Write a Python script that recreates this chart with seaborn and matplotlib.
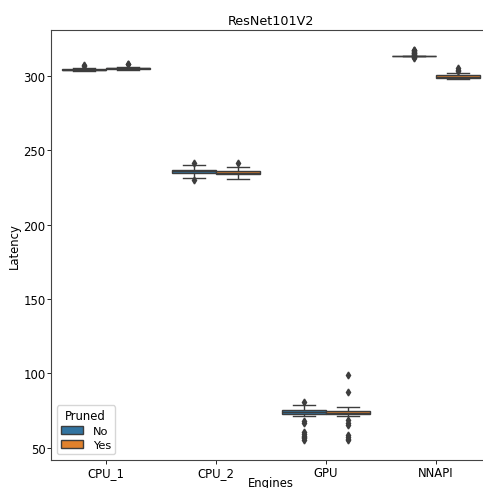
import numpy as np
import pandas as pd
import matplotlib
matplotlib.use("Agg")
import matplotlib.pyplot as plt
import seaborn as sns

engines = ["CPU_1", "CPU_2", "GPU", "NNAPI"]
pruned_levels = ["No", "Yes"]

cpu1_no = [303.0, 303.2, 303.4, 303.5, 303.6, 303.7, 303.8, 303.9, 304.0, 304.0,
           304.1, 304.2, 304.3, 304.4, 304.5, 304.6, 304.8, 306.5, 307.0]
cpu1_yes = [303.8, 304.0, 304.2, 304.4, 304.5, 304.6, 304.7, 304.8, 304.9, 305.0,
            305.0, 305.1, 305.2, 305.3, 305.4, 305.6, 305.8, 307.5, 308.0]
cpu2_no = [230.0, 231.5, 232.5, 233.5, 234.3, 234.6, 235.0, 235.3, 235.6, 235.8,
           236.0, 236.2, 236.4, 236.6, 236.8, 237.0, 237.5, 238.5, 239.7, 241.0]
cpu2_yes = [230.5, 231.5, 232.5, 233.3, 233.5, 233.8, 234.0, 234.3, 234.6, 234.8,
            235.0, 235.3, 235.6, 235.9, 236.1, 236.5, 237.5, 238.6, 241.0]
gpu_no = [55.5, 56.5, 57.0, 58.0, 59.5, 61.0, 66.5, 68.0,
          71.5, 72.4, 73.0, 73.1, 73.2, 73.3, 73.4, 73.5, 73.6, 73.7, 73.8, 73.9,
          74.0, 74.1, 74.2, 74.3, 74.4, 74.5, 74.6, 74.7, 74.8, 75.0, 75.5, 75.7,
          75.9, 76.1, 76.3, 76.6, 77.0, 77.5, 78.0, 78.5, 80.5]
gpu_yes = [55.0, 56.0, 57.0, 58.5, 65.5, 67.0, 68.5,
           71.1, 71.8, 72.2, 72.5, 72.6, 72.7, 72.8, 72.9, 73.0, 73.1, 73.2, 73.3,
           73.4, 73.5, 73.6, 73.7, 73.8, 73.9, 74.0, 74.1, 74.2, 74.4, 74.6, 74.8,
           75.0, 75.3, 75.6, 76.0, 76.4, 76.8, 77.2, 77.5, 87.5, 99.0]
nnapi_no = [311.8, 312.2, 312.5] + [313.0] * 30 + [313.6, 314.0, 314.5, 315.0,
                                                  315.5, 316.0, 316.5, 317.0, 317.5]
nnapi_yes = [297.5, 297.9, 298.2, 298.5, 298.5, 298.6, 298.7, 298.8, 299.0, 299.1,
             299.2, 299.3, 299.4, 299.6, 299.8, 300.0, 300.2, 300.6, 301.2, 301.6,
             303.2, 304.0, 304.8]

groups = {
    ("CPU_1", "No"): cpu1_no, ("CPU_1", "Yes"): cpu1_yes,
    ("CPU_2", "No"): cpu2_no, ("CPU_2", "Yes"): cpu2_yes,
    ("GPU", "No"): gpu_no, ("GPU", "Yes"): gpu_yes,
    ("NNAPI", "No"): nnapi_no, ("NNAPI", "Yes"): nnapi_yes,
}
rows = []
for (eng, pr), vals in groups.items():
    for v in vals:
        rows.append({"Engines": eng, "Pruned": pr, "Latency": v})
df = pd.DataFrame(rows)

plt.rcParams["font.family"] = ["DejaVu Sans"]
W, H = 483, 489
fig = plt.figure(figsize=(W / 100, H / 100), dpi=100)
ax = fig.add_axes([51 / W, (H - 461) / H, (491 - 51) / W, (461 - 31) / H])

lc = "#3d3d3d"
sns.boxplot(data=df, x="Engines", y="Latency", hue="Pruned",
            order=engines, hue_order=pruned_levels,
            palette=["#1f77b4", "#ff7f0e"], saturation=0.75,
            linecolor=lc, linewidth=1.0, width=0.8, gap=0.02,
            flierprops=dict(marker="d", markerfacecolor=lc, markeredgecolor=lc,
                            markersize=3.5),
            ax=ax)

ax.set_title("ResNet101V2", fontsize=9.2, pad=4)
ax.set_xlabel("Engines", fontsize=8.4)
ax.set_ylabel("Latency", fontsize=8.4)
ax.xaxis.set_label_coords(0.5, -(477 - 461) / 430)
ax.yaxis.set_label_coords(-(51 - 21) / 440, 0.5)
ax.tick_params(labelsize=8.4, length=3, width=0.6, pad=1)
ax.set_yticks([50, 100, 150, 200, 250, 300])
for s in ax.spines.values():
    s.set_linewidth(0.8)
    s.set_color("#444444")

leg = ax.legend(loc="lower left", title="Pruned", fontsize=8.2,
                title_fontsize=8.4, handlelength=2.0, labelspacing=0.35,
                borderaxespad=0.5, borderpad=0.35)

fig.savefig("out.png", dpi=100)
